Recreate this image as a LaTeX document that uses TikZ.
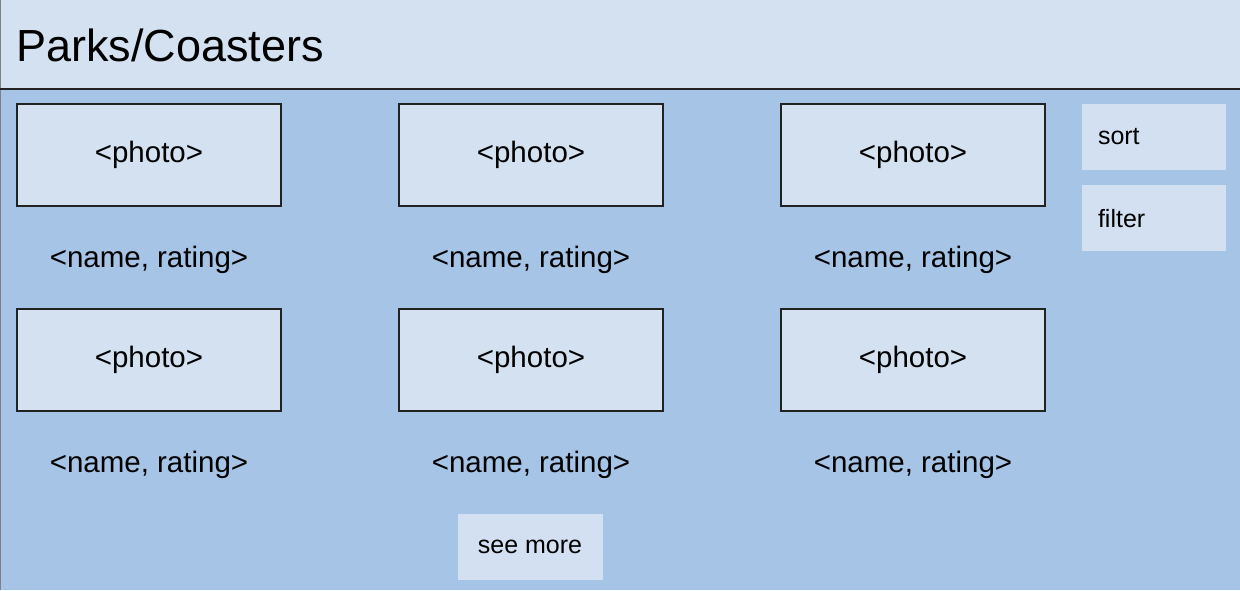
\documentclass[tikz,border=0pt]{standalone}
\usepackage{fontspec}
\setmainfont{Liberation Sans}
\usetikzlibrary{positioning}

\definecolor{headblue}{HTML}{D4E1F1}
\definecolor{bodyblue}{HTML}{A6C4E6}
\definecolor{btnblue}{HTML}{D3E0F1}
\definecolor{edgegray}{HTML}{222222}

\tikzset{
	photobox/.style={draw=edgegray, line width=2pt, fill=headblue,
		minimum width=264pt, minimum height=102pt, inner sep=0pt,
		font=\fontsize{29.5}{35}\selectfont},
	namelabel/.style={inner sep=0pt, font=\fontsize{29.5}{35}\selectfont},
	button/.style={fill=btnblue, inner sep=0pt,
		font=\fontsize{25}{30}\selectfont},
}

\begin{document}
\begin{tikzpicture}[x=1pt, y=-1pt]
	\useasboundingbox (0,0) rectangle (1240,590);

	%Background
	\fill[bodyblue] (0,89) rectangle (1240,590);
	\fill[headblue] (0,0) rectangle (1240,89);
	\draw[gray, line width=1pt] (0.5,0) -- (0.5,590);
	\draw[edgegray, line width=2pt] (0,89) -- (1240,89);

	%Title
	\node[anchor=west, inner sep=0pt, font=\fontsize{45}{54}\selectfont] (Title) at (16,45) {Parks/Coasters};

	%Grid of photos
	\foreach \col/\x in {A/149, B/531, C/913}{
		\foreach \row/\y in {1/0, 2/205}{
			\node[photobox] (Photo\col\row) at (\x,155+\y) {\raisebox{-2pt}{<photo>}};
			\node[namelabel] (Name\col\row) at (\x,260+\y) {<name, rating>};
		}
	}

	%Buttons
	\node[button, minimum width=144pt, minimum height=66pt, text width=112pt, align=left] (Sort) at (1154,137) {sort};
	\node[button, minimum width=144pt, minimum height=66pt, text width=112pt, align=left, below=15pt of Sort] (Filter) {filter};
	\node[button, minimum width=145pt, minimum height=66pt] (SeeMore) at (530,547) {\raisebox{-2pt}{see more}};

\end{tikzpicture}
\end{document}
